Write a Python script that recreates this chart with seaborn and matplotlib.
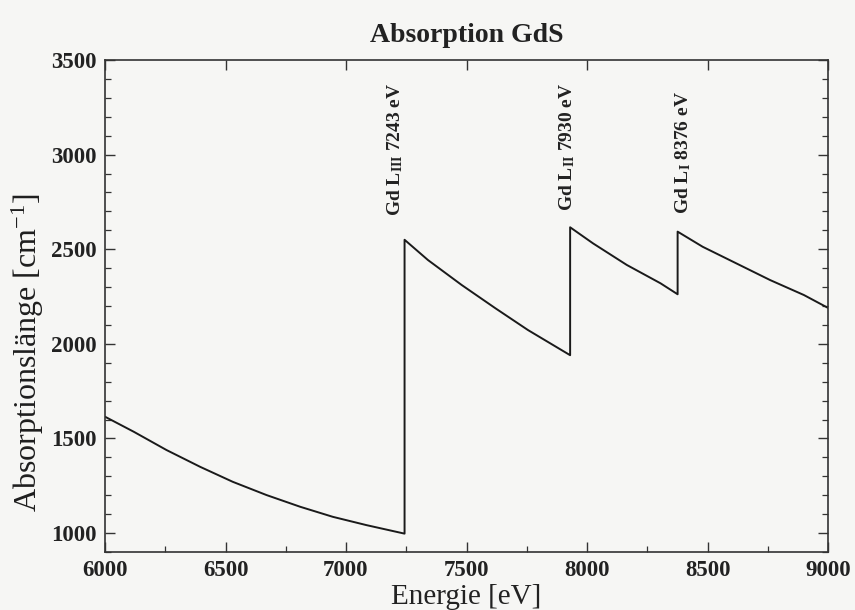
import matplotlib
matplotlib.use("Agg")
import matplotlib.pyplot as plt
from matplotlib.ticker import MultipleLocator
import seaborn as sns
import pandas as pd

# Absorption length of GdS around the Gd L edges
energy = [6000, 6120, 6255, 6395, 6530, 6670, 6810, 6945, 7085, 7243,
          7243, 7340, 7480, 7620, 7755, 7930,
          7930, 8025, 8165, 8305, 8376,
          8376, 8480, 8620, 8760, 8900, 9000]
absorption = [1615, 1535, 1439, 1350, 1271, 1201, 1139, 1086, 1042, 997,
              2550, 2443, 2311, 2188, 2073, 1940,
              2616, 2531, 2417, 2320, 2262,
              2593, 2513, 2425, 2337, 2258, 2190]

edge_labels = [r"Gd L$_{\mathbf{III}}$ 7243 eV",
               r"Gd L$_{\mathbf{II}}$ 7930 eV",
               r"Gd L$_{\mathbf{I}}$ 8376 eV"]
edge_label_x = [7203, 7917, 8398]
edge_label_y = [3030, 3040, 3010]

x_ticks = [6000, 6500, 7000, 7500, 8000, 8500, 9000]
y_ticks = [1000, 1500, 2000, 2500, 3000, 3500]

sns.set_theme(style="ticks")
plt.rcParams["font.family"] = ["Liberation Serif", "DejaVu Serif"]
plt.rcParams["mathtext.fontset"] = "custom"
plt.rcParams["mathtext.rm"] = "Liberation Serif"
plt.rcParams["mathtext.it"] = "Liberation Serif:italic"
plt.rcParams["mathtext.bf"] = "Liberation Serif:bold"

bg = "#f6f6f4"
fig = plt.figure(figsize=(8.55, 6.10), dpi=100, facecolor=bg)
ax = fig.add_axes([105 / 855, 1 - 552 / 610, (828 - 105) / 855, (552 - 60) / 610])
ax.set_facecolor(bg)

df = pd.DataFrame({"Energie": energy, "Absorption": absorption})
sns.lineplot(data=df, x="Energie", y="Absorption", sort=False, estimator=None,
             color="#1a1a1a", linewidth=1.4, ax=ax)

ax.set_xlim(6000, 9000)
ax.set_ylim(900, 3500)
ax.set_xticks(x_ticks)
ax.set_yticks(y_ticks)
ax.xaxis.set_minor_locator(MultipleLocator(250))
ax.yaxis.set_minor_locator(MultipleLocator(100))
ax.tick_params(which="both", direction="in", top=True, right=True,
               color="#333333")
ax.tick_params(which="major", length=7, width=1.0, labelsize=16.5, pad=6)
ax.tick_params(which="minor", length=4, width=0.9)
ax.tick_params(axis="x", which="minor", top=False)
for lab in ax.get_xticklabels() + ax.get_yticklabels():
    lab.set_fontweight("bold")
    lab.set_color("#222222")
for s in ax.spines.values():
    s.set_linewidth(1.2)
    s.set_color("#333333")

ax.set_xlabel("Energie [eV]", fontsize=21, color="#222222", labelpad=2)
ax.set_ylabel(r"Absorptionslänge [cm$^{-1}$]", fontsize=23,
              color="#1e1e1e")
ax.yaxis.set_label_coords(-0.082, 0.405)
ax.set_title("Absorption GdS", fontsize=20, fontweight="bold",
             color="#222222", pad=13)

for txt, xx, yy in zip(edge_labels, edge_label_x, edge_label_y):
    ax.text(xx, yy, txt, rotation=90, ha="center", va="center",
            fontsize=14, fontweight="bold", color="#222222")

fig.savefig("out.png", dpi=100, facecolor=bg)
